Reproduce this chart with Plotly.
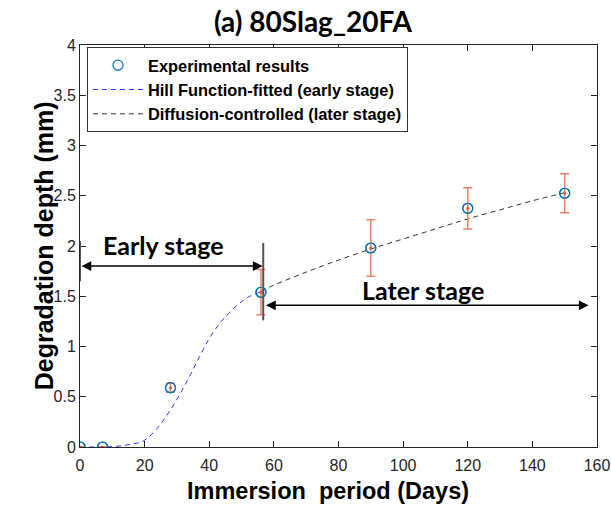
import plotly.graph_objects as go

# ---- data ----
days = [0, 7, 28, 56, 90, 120, 150]
depth = [0.0, 0.0, 0.59, 1.54, 1.98, 2.375, 2.525]
depth_err = [0.0, 0.0, 0.045, 0.225, 0.28, 0.205, 0.195]

hill_x = [0, 5, 10, 13, 16, 19, 22, 25, 28, 31, 34, 37, 40, 43, 46, 49, 52, 56]
hill_y = [0.0, 0.0, 0.004, 0.012, 0.03, 0.05, 0.12, 0.23, 0.37, 0.53, 0.71, 0.90,
          1.08, 1.22, 1.33, 1.42, 1.49, 1.545]

diff_x = [56, 60, 70, 80, 90, 100, 110, 120, 130, 140, 150]
diff_y = [1.55, 1.61, 1.74, 1.86, 1.97, 2.07, 2.17, 2.27, 2.36, 2.45, 2.53]

x_ticks = [0, 20, 40, 60, 80, 100, 120, 140, 160]
y_ticks = [0, 0.5, 1, 1.5, 2, 2.5, 3, 3.5, 4]
y_tick_text = ["0", "0.5", "1", "1.5", "2", "2.5", "3", "3.5", "4"]

early_arrow = dict(x0=0, x1=56.5, y=1.80)
later_arrow = dict(x0=57.1, x1=157.4, y=1.41)
stage_line = dict(x=56.7, y0=1.26, y1=2.03)

ARIAL = "Liberation Sans, Arial, sans-serif"
CALIBRI = "Lato, Carlito, Calibri, sans-serif"
AX = "#262626"

fig = go.Figure()

fig.add_trace(go.Scatter(
    x=days, y=depth, mode="markers", name="Experimental results",
    marker=dict(symbol="circle-open", color="#0072BD", size=10, line=dict(width=1.2)),
))
fig.add_trace(go.Scatter(
    x=hill_x, y=hill_y, mode="lines", name="Hill Function-fitted (early stage)",
    line=dict(color="#3535FF", width=1, dash="5px,4px", shape="spline"),
))
fig.add_trace(go.Scatter(
    x=diff_x, y=diff_y, mode="lines", name="Diffusion-controlled (later stage)",
    line=dict(color="#333333", width=1, dash="5px,4px", shape="spline"),
))
# error bars with small red centre dot
fig.add_trace(go.Scatter(
    x=days, y=depth, mode="markers", showlegend=False,
    marker=dict(color="#E2542A", size=3),
    error_y=dict(type="data", array=depth_err, visible=True,
                 color="rgb(236,130,100)", thickness=1.5, width=4.5),
))
# redraw open circles on top of the error bars (no legend entry)
fig.add_trace(go.Scatter(
    x=days, y=depth, mode="markers", showlegend=False,
    marker=dict(symbol="circle-open", color="#0072BD", size=10, line=dict(width=1.2)),
))

# vertical separators
fig.add_shape(type="line", x0=stage_line["x"], x1=stage_line["x"],
              y0=stage_line["y0"], y1=stage_line["y1"],
              line=dict(color="#555555", width=2), xref="x", yref="y")
fig.add_shape(type="line", x0=0, x1=0, y0=1.65, y1=2.05,
              line=dict(color="#555555", width=2), xref="x", yref="y")

# double-headed arrows
for a in (early_arrow, later_arrow):
    fig.add_annotation(x=a["x1"], y=a["y"], ax=a["x0"], ay=a["y"],
                       xref="x", yref="y", axref="x", ayref="y",
                       showarrow=True, arrowhead=2, startarrowhead=2,
                       arrowside="end+start", arrowsize=1.3, startarrowsize=1.3,
                       arrowwidth=1.5, arrowcolor="black", text="")

fig.add_annotation(x=25.6, y=2.01, xref="x", yref="y", text="<b>Early stage</b>",
                   showarrow=False, font=dict(family=CALIBRI, size=25, color="black"))
fig.add_annotation(x=106.3, y=1.56, xref="x", yref="y", text="<b>Later stage</b>",
                   showarrow=False, font=dict(family=CALIBRI, size=25, color="black"))

# axis titles
fig.add_annotation(x=0.48, y=-0.146, xref="paper", yref="paper",
                   text="<b>Immersion\u00a0 period (Days)</b>", showarrow=False,
                   font=dict(family=ARIAL, size=23.5, color="black"))
fig.add_annotation(x=-0.10, y=0.5, xref="paper", yref="paper", textangle=-90,
                   text="<b>Degradation depth (mm)</b>", showarrow=False,
                   font=dict(family=ARIAL, size=25, color="black"))

fig.update_layout(
    width=611, height=524,
    margin=dict(l=80, r=14, t=45, b=77, autoexpand=False),
    paper_bgcolor="white", plot_bgcolor="white",
    title=dict(text="<b>(a) 80Slag_20FA</b>", x=313/611, xref="container", xanchor="center",
               y=1 - 22/524, yref="container", yanchor="middle",
               font=dict(family=CALIBRI, size=28, color="black")),
    legend=dict(x=0.0135, y=0.995, xanchor="left", yanchor="top",
                bgcolor="white", bordercolor="#333333", borderwidth=1,
                font=dict(family=ARIAL, size=16.4, color="black", weight="bold"),
                tracegroupgap=0, itemwidth=50),
    showlegend=True,
)
fig.update_xaxes(range=[0, 160], tickvals=x_ticks, ticks="inside", ticklen=6,
                 tickcolor=AX, showline=True, linecolor=AX, linewidth=1, mirror="ticks",
                 showgrid=False, zeroline=False, automargin=False, ticklabelstandoff=4,
                 tickfont=dict(family=ARIAL, size=16, color=AX))
fig.update_yaxes(range=[0, 4], tickvals=y_ticks, ticktext=y_tick_text, ticks="inside",
                 ticklen=6, tickcolor=AX, showline=True, linecolor=AX, linewidth=1,
                 mirror="ticks", showgrid=False, zeroline=False, automargin=False,
                 tickfont=dict(family=ARIAL, size=16, color=AX))

fig.write_html("out.html")
